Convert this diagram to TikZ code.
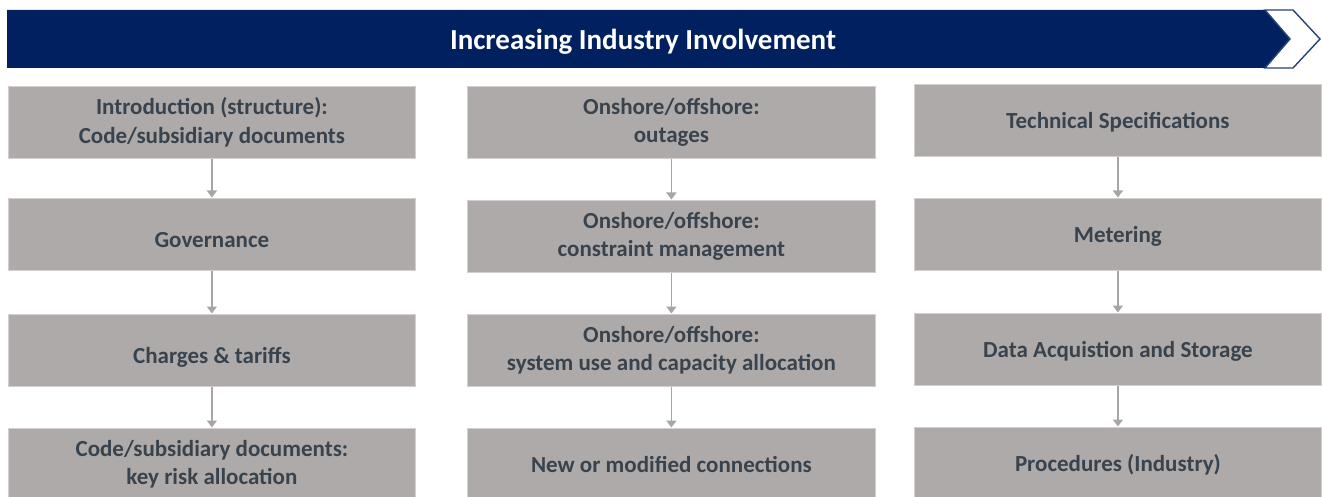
\documentclass[tikz,border=0pt]{standalone}
\usepackage{fontspec}
\setmainfont{Carlito}
\usetikzlibrary{arrows.meta}
\definecolor{navy}{HTML}{002060}
\definecolor{boxgrey}{HTML}{AEAAA9}
\definecolor{boxedge}{HTML}{D2CFCE}
\definecolor{txtgrey}{HTML}{38434E}
\definecolor{arrgrey}{HTML}{A8A5A5}
\tikzset{
  stepbox/.style={rectangle, anchor=north west, fill=boxgrey, draw=boxedge, line width=0.8pt,
    minimum width=407pt, minimum height=72pt, inner sep=0pt, align=center,
    text=txtgrey, font=\fontsize{23}{28.5}\selectfont\bfseries},
  oneline/.style={text height=21pt, text depth=4pt},
  lowtext/.style={text height=31pt, text depth=4pt},
  flow/.style={draw=arrgrey, line width=1.6pt, -{Triangle[width=10pt,length=7pt]}, shorten >=0.5pt}
}
\begin{document}
\begin{tikzpicture}[x=1pt,y=-1pt]
\useasboundingbox (0,0) rectangle (1322,497);
\clip (0,0) rectangle (1322,497);
% banner
\fill[navy] (7,10) -- (1265,10) -- (1290,39) -- (1265,68) -- (7,68) -- cycle;
\draw[navy!85!white, line width=1.4pt, fill=white, line join=miter] (1265,10) -- (1293,10) -- (1320,39) -- (1293,68) -- (1265,68) -- (1290,39) -- cycle;
\node[text=white, font=\fontsize{29}{34}\selectfont\bfseries] (title) at (643,42) {Increasing Industry Involvement};
% column 1
\node[stepbox] (a1) at (8,86) {Introduction (structure):\\Code/subsidiary documents};
\node[stepbox, lowtext] (a2) at (8,198) {Governance};
\node[stepbox, lowtext] (a3) at (8,314) {Charges \& tariffs};
\node[stepbox] (a4) at (8,428) {Code/subsidiary documents:\\key risk allocation};
% column 2
\node[stepbox, minimum width=408pt] (b1) at (467,86) {Onshore/offshore:\\outages};
\node[stepbox, minimum width=408pt] (b2) at (467,200) {Onshore/offshore:\\constraint management};
\node[stepbox, minimum width=408pt] (b3) at (467,314) {Onshore/offshore:\\system use and capacity allocation};
\node[stepbox, oneline, minimum width=408pt] (b4) at (467,428) {New or modified connections};
% column 3
\node[stepbox, oneline] (c1) at (914,84) {Technical Specifications};
\node[stepbox, oneline] (c2) at (914,198) {Metering};
\node[stepbox, oneline] (c3) at (914,313) {Data Acquistion and Storage};
\node[stepbox, oneline] (c4) at (914,427) {Procedures (Industry)};
% connectors
\foreach \u/\v in {a1/a2,a2/a3,a3/a4,b1/b2,b2/b3,b3/b4,c1/c2,c2/c3,c3/c4}
  \draw[flow] (\u.south) -- (\v.north);
\end{tikzpicture}
\end{document}
